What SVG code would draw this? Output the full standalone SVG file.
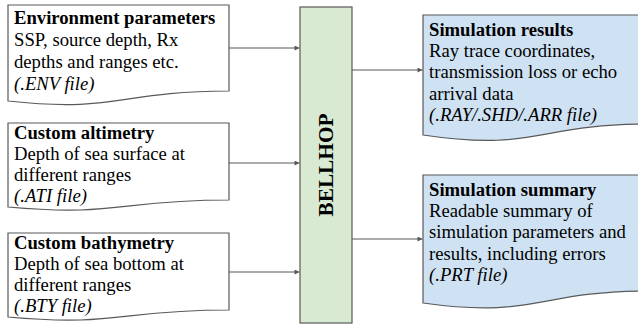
<svg xmlns="http://www.w3.org/2000/svg" width="638" height="326" viewBox="0 0 638 326">
<style>
.box{stroke:#595959;stroke-width:1.2;}
.in{fill:#ffffff;}
.out{fill:#cfe2f3;}
.core{fill:#d9ead3;}
text{font-family:"Liberation Serif","Times New Roman","DejaVu Serif",serif;font-size:18.67px;fill:#000;}
.b{font-weight:bold;}
.i{font-style:italic;}
.c{stroke:#595959;stroke-width:1.2;fill:none;}
</style>
<defs>
<marker id="ah" viewBox="0 0 10 10" refX="10" refY="5" markerWidth="6" markerHeight="5" markerUnits="userSpaceOnUse" orient="auto">
<path d="M0,0 L10,5 L0,10 Z" fill="#595959"/>
</marker>
</defs>
<g id="env">
<path class="box in" d="M8,5 H229 V91 C118,91 118,113 8,101 Z"/>
<text class="b" x="14" y="23.5">Environment parameters</text>
<text x="14" y="45.7">SSP, source depth, Rx</text>
<text x="14" y="67.9">depths and ranges etc.</text>
<text class="i" x="14" y="90">(.ENV file)</text>
</g>
<g id="ati">
<path class="box in" d="M8,123 H229 V200 C118,200 118,217 8,207 Z"/>
<text class="b" x="14" y="139">Custom altimetry</text>
<text x="14" y="160">Depth of sea surface at</text>
<text x="14" y="181">different ranges</text>
<text class="i" x="14" y="202">(.ATI file)</text>
</g>
<g id="bty">
<path class="box in" d="M8,233 H229 V310 C118,310 118,327 8,317 Z"/>
<text class="b" x="14" y="249">Custom bathymetry</text>
<text x="14" y="270">Depth of sea bottom at</text>
<text x="14" y="291">different ranges</text>
<text class="i" x="14" y="312">(.BTY file)</text>
</g>
<g id="bellhop">
<rect class="box core" x="300" y="7" width="52" height="316"/>
<text class="b" style="font-size:21.33px" text-anchor="middle" transform="translate(333,165) rotate(-90)">BELLHOP</text>
</g>
<g id="results">
<path class="box out" d="M423,15 H650 V124 C536,124 536,152 423,135 Z"/>
<text class="b" x="429" y="36">Simulation results</text>
<text x="429" y="57.2">Ray trace coordinates,</text>
<text x="429" y="78.4">transmission loss or echo</text>
<text x="429" y="99.6">arrival data</text>
<text class="i" x="429" y="120.8">(.RAY/.SHD/.ARR file)</text>
</g>
<g id="summary">
<path class="box out" d="M423,175 H650 V291 C536,291 536,319 423,303 Z"/>
<text class="b" x="429" y="196">Simulation summary</text>
<text x="429" y="217.2">Readable summary of</text>
<text x="429" y="238.4">simulation parameters and</text>
<text x="429" y="259.6">results, including errors</text>
<text class="i" x="429" y="280.8">(.PRT file)</text>
</g>
<g id="connectors">
<path class="c" d="M229,48 H299.5" marker-end="url(#ah)"/>
<path class="c" d="M229,163 H299.5" marker-end="url(#ah)"/>
<path class="c" d="M229,272 H299.5" marker-end="url(#ah)"/>
<path class="c" d="M352,70 H422.5" marker-end="url(#ah)"/>
<path class="c" d="M352,239 H422.5" marker-end="url(#ah)"/>
</g>
</svg>
